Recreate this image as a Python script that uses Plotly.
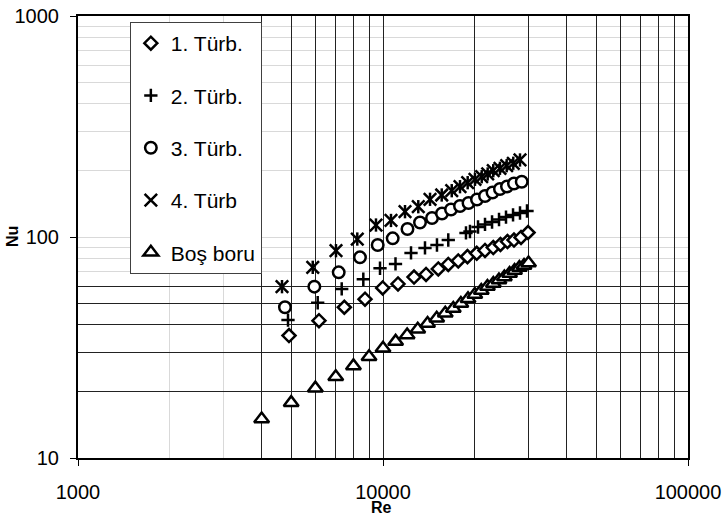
import plotly.graph_objects as go

# ---- data ----
re_t1 = [4918, 6168, 7467, 8730, 9977, 11200, 12640, 13840, 15180, 16370,
         17650, 18920, 20290, 21600, 22990, 24270, 25590, 26880, 28350, 29890]
nu_t1 = [35.8, 41.8, 48.1, 52.3, 58.8, 61.3, 65.9, 67.7, 71.7, 75.1,
         77.9, 81.5, 84.4, 86.9, 89.6, 92.5, 95.4, 96.9, 99.5, 104.8]

re_t2 = [4881, 6108, 7322, 8619, 9777, 10990, 12355, 13730, 15030, 16370,
         18710, 19280, 20490, 21600, 22780, 24010, 25310, 26690, 28130, 29660]
nu_t2 = [42.1, 50.4, 58.2, 64.4, 72.2, 75.5, 84.7, 89.2, 92.0, 96.9,
         104.3, 105.9, 111.0, 114.0, 116.9, 120.0, 123.1, 125.8, 128.4, 131.1]

re_t3 = [4771, 5955, 7158, 8405, 9608, 10760, 12030, 13223, 14478, 15610,
         16710, 17884, 19070, 20330, 21600, 22860, 24180, 25500, 26880, 28500]
nu_t3 = [48.1, 59.6, 69.2, 80.9, 92.0, 98.6, 108.7, 116.3, 121.9, 127.8,
         133.2, 138.1, 142.5, 147.8, 153.3, 159.0, 164.9, 169.3, 174.6, 177.9]

re_t4 = [4665, 5884, 7013, 8236, 9484, 10622, 11808, 13053, 14263, 15579, 16801,
         17884, 18952, 20025, 21068, 22040, 22990, 24180, 25440, 26740, 28130]
nu_t4 = [59.6, 72.9, 86.7, 97.9, 113.3, 118.8, 130.2, 137.1, 148.1, 154.9, 162.0,
         168.9, 176.1, 182.4, 187.4, 192.8, 199.5, 204.6, 210.2, 215.6, 223.1]

re_bos = [4000, 5000, 6000, 7000, 8000, 9000, 10000, 11000, 12000, 13000, 14000,
          15000, 16000, 17000, 18000, 19000, 20000, 21000, 22000, 23000, 24000,
          25000, 26000, 27000, 28000, 29000, 30000]
nu_bos = [15.0, 17.8, 20.7, 23.3, 26.1, 28.7, 31.4, 33.7, 36.0, 38.2, 40.6,
          42.9, 45.2, 47.5, 50.0, 52.5, 54.9, 57.3, 59.7, 61.6, 63.9,
          65.9, 68.4, 70.5, 72.8, 74.3, 76.3]

series_names = ["1. Türb.", "2. Türb.", "3. Türb.", "4. Türb", "Boş boru"]
x_title = "Re"
y_title = "Nu"

x_ticks = [1000, 10000, 100000]
x_tick_text = ["1000", "10000", "100000"]
y_ticks = [10, 100, 1000]
y_tick_text = ["10", "100", "1000"]

x_grid_dark = [4000, 5000, 6000, 7000, 8000, 9000, 10000,
               20000, 30000, 40000, 50000, 60000, 70000, 80000, 90000]
x_grid_light = [2000, 3000]
y_grid_dark = [20, 30, 40, 50, 60]
y_grid_light = [70, 80, 90, 100, 200, 300, 400, 500, 600, 700, 800, 900]

FONT = "Liberation Sans, Arial, sans-serif"
LW = 2.5

fig = go.Figure()

def filled(sym, size):
    return dict(symbol=sym, size=size, color="white",
                line=dict(color="black", width=LW))

def thin(sym, size):
    return dict(symbol=sym, size=size, color="black",
                line=dict(color="black", width=LW))

fig.add_trace(go.Scatter(x=re_t1, y=nu_t1, mode="markers", name=series_names[0],
                         marker=filled("diamond", 10), legendgroup="g1"))
fig.add_trace(go.Scatter(x=re_t2, y=nu_t2, mode="markers", name=series_names[1],
                         marker=thin("cross-thin-open", 9.5), legendgroup="g2"))
fig.add_trace(go.Scatter(x=re_t3, y=nu_t3, mode="markers", name=series_names[2],
                         marker=filled("circle", 11.5), legendgroup="g3"))
fig.add_trace(go.Scatter(x=re_t4, y=nu_t4, mode="markers", name=series_names[3],
                         marker=thin("x-thin-open", 12.5), legendgroup="g4"))
fig.add_trace(go.Scatter(x=re_t4, y=nu_t4, mode="markers", name=series_names[3],
                         marker=thin("line-ns-open", 9.5), legendgroup="g4",
                         showlegend=False))
fig.add_trace(go.Scatter(x=re_bos, y=nu_bos, mode="markers", name=series_names[4],
                         marker=filled("triangle-up", 13), legendgroup="g5"))

# invisible trace so the grid overlay axes get drawn
fig.add_trace(go.Scatter(x=[x_ticks[0]], y=[y_ticks[0]], xaxis="x2", yaxis="y2",
                         mode="markers", marker=dict(opacity=0), showlegend=False,
                         hoverinfo="skip"))

fig.update_layout(
    width=726, height=522,
    margin=dict(l=78, r=38, t=16, b=64),
    paper_bgcolor="white", plot_bgcolor="white",
    font=dict(family=FONT, size=20, color="black"),
    showlegend=True,
    legend=dict(x=0.085, y=0.9864, xanchor="left", yanchor="top",
                bgcolor="white", bordercolor="#404040", borderwidth=1,
                font=dict(family=FONT, size=21, color="black"),
                tracegroupgap=22, traceorder="grouped"),
    xaxis=dict(type="log", range=[3, 5], tickmode="array", tickvals=x_ticks,
               ticktext=x_tick_text, ticks="outside", ticklen=6, tickcolor="black",
               showgrid=False, showline=True, mirror=True, linecolor="black",
               linewidth=2, ticklabelstandoff=9, automargin=False,
               tickfont=dict(family=FONT, size=20)),
    yaxis=dict(type="log", range=[1, 3], tickmode="array", tickvals=y_ticks,
               ticktext=y_tick_text, ticks="outside", ticklen=6, tickcolor="black",
               showgrid=False, showline=True, mirror=True, linecolor="black",
               linewidth=2, ticklabelstandoff=7, automargin=False,
               tickfont=dict(family=FONT, size=20)),
    xaxis2=dict(type="log", range=[3, 5], overlaying="x", tickmode="array",
                tickvals=x_grid_dark, showticklabels=False, ticks="",
                showgrid=True, gridcolor="#222222", gridwidth=1, showline=False,
                zeroline=False, automargin=False,
                minor=dict(tickmode="array", tickvals=x_grid_light, showgrid=True,
                           gridcolor="#d9d9d9", gridwidth=1, ticks="")),
    yaxis2=dict(type="log", range=[1, 3], overlaying="y", tickmode="array",
                tickvals=y_grid_dark, showticklabels=False, ticks="",
                showgrid=True, gridcolor="#222222", gridwidth=1, showline=False,
                zeroline=False, automargin=False,
                minor=dict(tickmode="array", tickvals=y_grid_light, showgrid=True,
                           gridcolor="#d9d9d9", gridwidth=1, ticks="")),
    annotations=[
        dict(text="<b>" + x_title + "</b>", xref="paper", yref="paper",
             x=0.498, y=-0.112, xanchor="center", yanchor="middle",
             showarrow=False, font=dict(family=FONT, size=16, color="black")),
        dict(text="<b>" + y_title + "</b>", xref="paper", yref="paper",
             x=-0.108, y=0.5, xanchor="center", yanchor="middle", textangle=-90,
             showarrow=False, font=dict(family=FONT, size=16, color="black")),
    ],
)

fig.write_html("out.html",
               config={"displayModeBar": False},
               post_script="document.body.style.margin='0';"
                           "document.body.style.padding='0';")
